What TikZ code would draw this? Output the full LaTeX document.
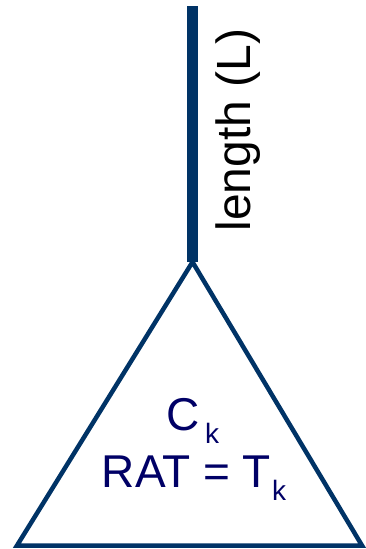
\documentclass[tikz,border=0pt]{standalone}
\usepackage{fontspec}
\setmainfont{Liberation Sans}
\definecolor{linenavy}{RGB}{0,51,102}
\definecolor{textnavy}{RGB}{0,0,102}
\newcommand{\subk}[1]{\kern#1\raisebox{-13pt}{\fontsize{28}{28}\selectfont k}}
\begin{document}
\begin{tikzpicture}[x=1pt,y=-1pt,
  wire/.style={draw=linenavy,line width=11pt},
  tri/.style={draw=linenavy,line width=4.5pt,line join=miter},
  lbl/.style={font=\fontsize{48}{55}\selectfont,inner sep=0pt},
  inlbl/.style={font=\fontsize{46}{57}\selectfont,text=textnavy,inner sep=0pt}]
\useasboundingbox (0,0) rectangle (365,549);
\coordinate (top) at (192.5,6);
\coordinate (apex) at (192.5,262);
\coordinate (bl) at (17,545.5);
\coordinate (br) at (362,545.5);
\draw[wire] (top) -- (apex);
\draw[tri] (apex) -- (bl) -- (br) -- cycle;
\node[lbl,rotate=90,anchor=base] (len) at (250,130) {length (L)};
\node[inlbl,anchor=base] (ck) at (193,430) {C\subk{5pt}};
\node[inlbl,anchor=base] (rat) at (194,487) {RAT = T\subk{1pt}};
\end{tikzpicture}
\end{document}
